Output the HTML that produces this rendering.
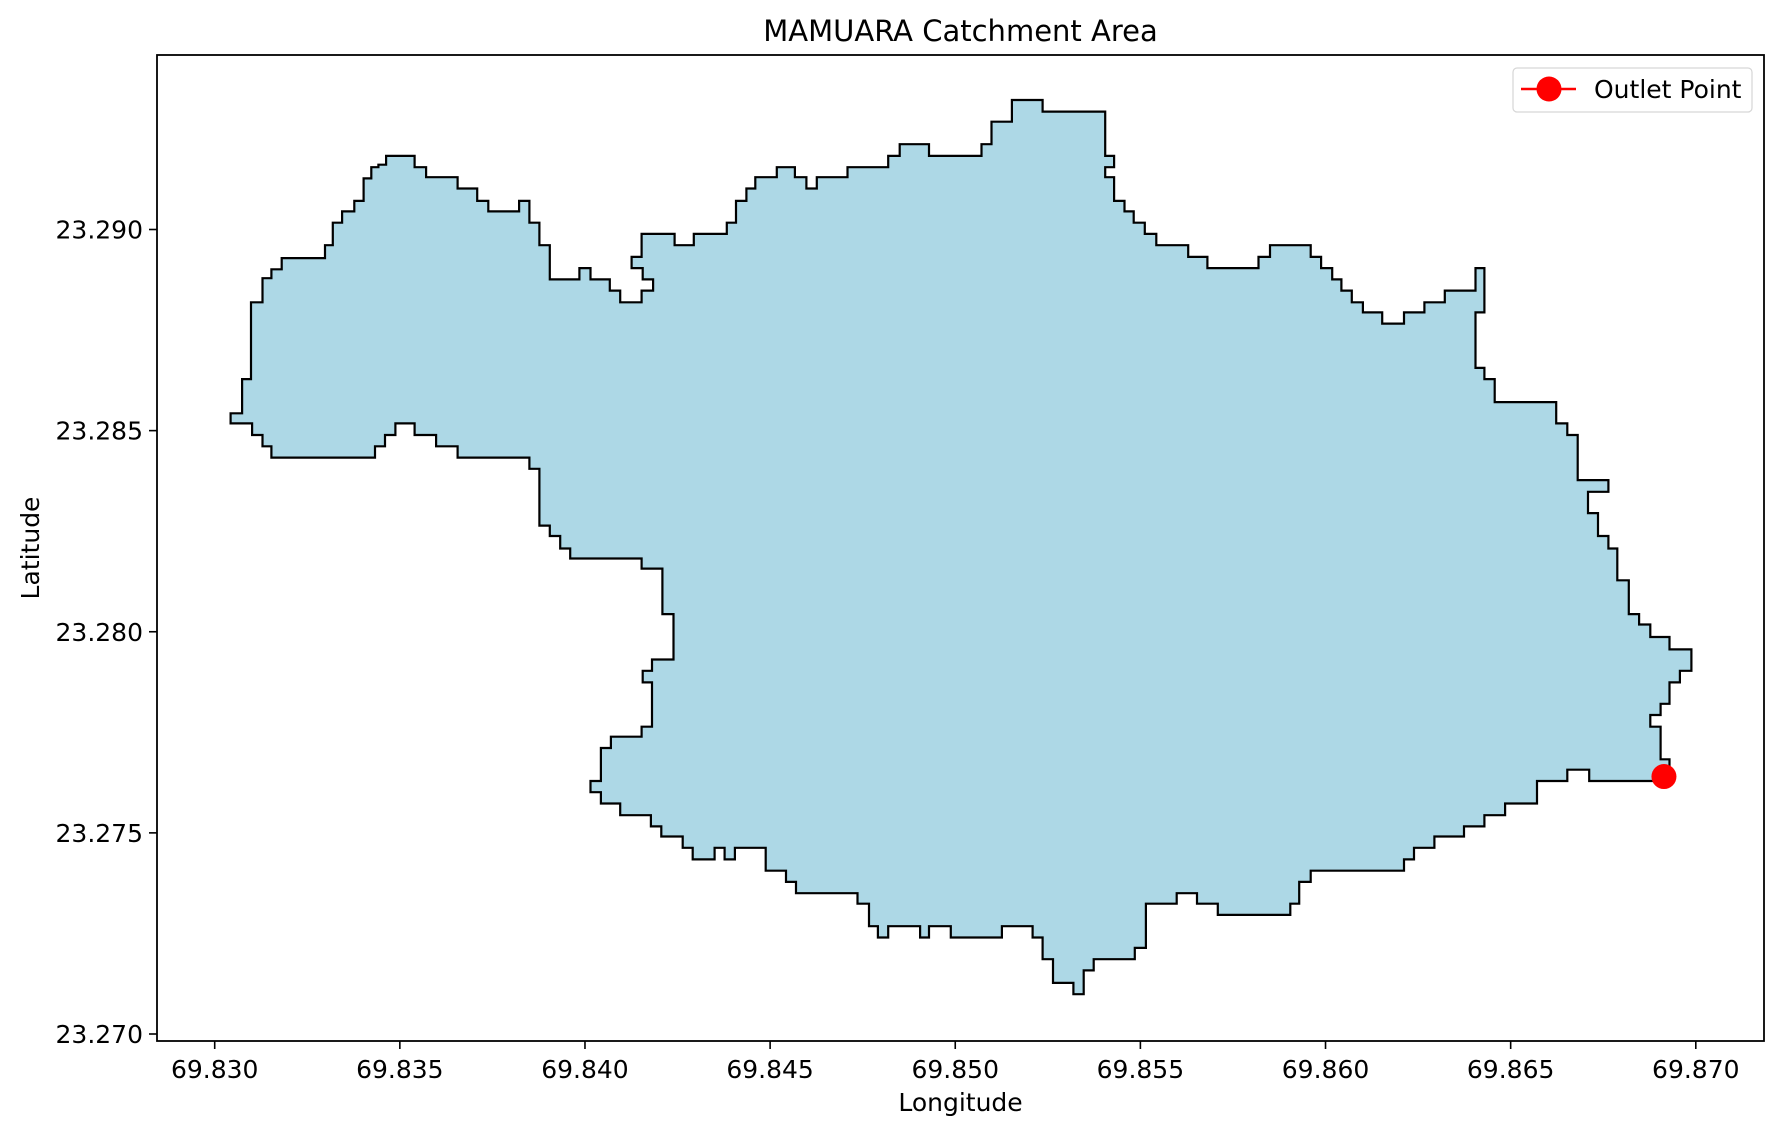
<!DOCTYPE html>
<html><head><meta charset="utf-8"><style>
body{margin:0;background:#fff}
svg text{font-family:"DejaVu Sans","Liberation Sans",sans-serif;fill:#000}
</style></head><body>
<svg id="chart" width="1781" height="1134" xmlns="http://www.w3.org/2000/svg">
<rect width="1781" height="1134" fill="#fff"/>
<g id="plot"></g>
</svg>
<script>
const xTicks=[69.830,69.835,69.840,69.845,69.850,69.855,69.860,69.865,69.870];
const yTicks=[23.270,23.275,23.280,23.285,23.290];
const outlet=[69.86914,23.27640];
const boundary=[
[69.83043,23.28543],[69.83074,23.28543],[69.83074,23.28628],[69.83098,23.28628],[69.83098,23.28819],[69.83129,23.28819],[69.83129,23.28879],[69.83153,23.28879],[69.83153,23.28901],[69.83181,23.28901],[69.83181,23.28929],[69.83298,23.28929],[69.83298,23.28961],[69.83319,23.28961],[69.83319,23.29017],[69.83344,23.29017],[69.83344,23.29045],[69.83377,23.29045],[69.83377,23.29071],[69.83402,23.29071],[69.83402,23.29127],[69.83423,23.29127],[69.83423,23.29155],[69.83442,23.29155],[69.83442,23.29161],[69.83463,23.29161],[69.83463,23.29183],[69.83540,23.29183],[69.83540,23.29155],[69.83571,23.29155],[69.83571,23.29130],[69.83656,23.29130],[69.83656,23.29102],[69.83709,23.29102],[69.83709,23.29071],[69.83739,23.29071],[69.83739,23.29045],[69.83822,23.29045],[69.83822,23.29071],[69.83850,23.29071],[69.83850,23.29017],[69.83877,23.29017],[69.83877,23.28961],[69.83905,23.28961],[69.83905,23.28876],[69.83985,23.28876],[69.83985,23.28904],[69.84015,23.28904],[69.84015,23.28876],[69.84067,23.28876],[69.84067,23.28848],[69.84095,23.28848],[69.84095,23.28819],[69.84153,23.28819],[69.84153,23.28848],[69.84184,23.28848],[69.84184,23.28876],[69.84156,23.28876],[69.84156,23.28904],[69.84126,23.28904],[69.84126,23.28932],[69.84153,23.28932],[69.84153,23.28989],[69.84242,23.28989],[69.84242,23.28961],[69.84294,23.28961],[69.84294,23.28989],[69.84383,23.28989],[69.84383,23.29017],[69.84408,23.29017],[69.84408,23.29071],[69.84436,23.29071],[69.84436,23.29102],[69.84460,23.29102],[69.84460,23.29130],[69.84518,23.29130],[69.84518,23.29155],[69.84567,23.29155],[69.84567,23.29130],[69.84598,23.29130],[69.84598,23.29102],[69.84626,23.29102],[69.84626,23.29130],[69.84709,23.29130],[69.84709,23.29155],[69.84819,23.29155],[69.84819,23.29183],[69.84850,23.29183],[69.84850,23.29212],[69.84929,23.29212],[69.84929,23.29183],[69.85071,23.29183],[69.85071,23.29212],[69.85098,23.29212],[69.85098,23.29268],[69.85153,23.29268],[69.85153,23.29322],[69.85236,23.29322],[69.85236,23.29293],[69.85405,23.29293],[69.85405,23.29183],[69.85429,23.29183],[69.85429,23.29155],[69.85405,23.29155],[69.85405,23.29130],[69.85429,23.29130],[69.85429,23.29071],[69.85457,23.29071],[69.85457,23.29045],[69.85482,23.29045],[69.85482,23.29017],[69.85512,23.29017],[69.85512,23.28989],[69.85543,23.28989],[69.85543,23.28961],[69.85629,23.28961],[69.85629,23.28932],[69.85681,23.28932],[69.85681,23.28904],[69.85819,23.28904],[69.85819,23.28932],[69.85850,23.28932],[69.85850,23.28961],[69.85960,23.28961],[69.85960,23.28932],[69.85988,23.28932],[69.85988,23.28904],[69.86018,23.28904],[69.86018,23.28876],[69.86043,23.28876],[69.86043,23.28848],[69.86071,23.28848],[69.86071,23.28819],[69.86101,23.28819],[69.86101,23.28794],[69.86153,23.28794],[69.86153,23.28766],[69.86212,23.28766],[69.86212,23.28794],[69.86267,23.28794],[69.86267,23.28819],[69.86322,23.28819],[69.86322,23.28848],[69.86405,23.28848],[69.86405,23.28904],[69.86429,23.28904],[69.86429,23.28794],[69.86405,23.28794],[69.86405,23.28656],[69.86429,23.28656],[69.86429,23.28628],[69.86457,23.28628],[69.86457,23.28571],[69.86623,23.28571],[69.86623,23.28518],[69.86653,23.28518],[69.86653,23.28489],[69.86681,23.28489],[69.86681,23.28377],[69.86764,23.28377],[69.86764,23.28348],[69.86709,23.28348],[69.86709,23.28295],[69.86736,23.28295],[69.86736,23.28238],[69.86764,23.28238],[69.86764,23.28207],[69.86788,23.28207],[69.86788,23.28128],[69.86819,23.28128],[69.86819,23.28044],[69.86847,23.28044],[69.86847,23.28018],[69.86877,23.28018],[69.86877,23.27987],[69.86929,23.27987],[69.86929,23.27956],[69.86988,23.27956],[69.86988,23.27903],[69.86957,23.27903],[69.86957,23.27874],[69.86929,23.27874],[69.86929,23.27821],[69.86905,23.27821],[69.86905,23.27793],[69.86877,23.27793],[69.86877,23.27764],[69.86905,23.27764],[69.86905,23.27683],[69.86929,23.27683],[69.86929,23.27629],[69.86712,23.27629],[69.86712,23.27657],[69.86653,23.27657],[69.86653,23.27629],[69.86571,23.27629],[69.86571,23.27573],[69.86485,23.27573],[69.86485,23.27544],[69.86429,23.27544],[69.86429,23.27516],[69.86374,23.27516],[69.86374,23.27491],[69.86294,23.27491],[69.86294,23.27463],[69.86239,23.27463],[69.86239,23.27434],[69.86212,23.27434],[69.86212,23.27406],[69.85960,23.27406],[69.85960,23.27378],[69.85929,23.27378],[69.85929,23.27324],[69.85905,23.27324],[69.85905,23.27296],[69.85709,23.27296],[69.85709,23.27324],[69.85653,23.27324],[69.85653,23.27350],[69.85598,23.27350],[69.85598,23.27324],[69.85515,23.27324],[69.85515,23.27214],[69.85485,23.27214],[69.85485,23.27186],[69.85374,23.27186],[69.85374,23.27158],[69.85347,23.27158],[69.85347,23.27099],[69.85319,23.27099],[69.85319,23.27127],[69.85264,23.27127],[69.85264,23.27186],[69.85236,23.27186],[69.85236,23.27240],[69.85209,23.27240],[69.85209,23.27268],[69.85126,23.27268],[69.85126,23.27240],[69.84988,23.27240],[69.84988,23.27268],[69.84929,23.27268],[69.84929,23.27240],[69.84905,23.27240],[69.84905,23.27268],[69.84819,23.27268],[69.84819,23.27240],[69.84791,23.27240],[69.84791,23.27268],[69.84767,23.27268],[69.84767,23.27324],[69.84736,23.27324],[69.84736,23.27350],[69.84570,23.27350],[69.84570,23.27378],[69.84543,23.27378],[69.84543,23.27406],[69.84488,23.27406],[69.84488,23.27463],[69.84405,23.27463],[69.84405,23.27434],[69.84377,23.27434],[69.84377,23.27463],[69.84350,23.27463],[69.84350,23.27434],[69.84291,23.27434],[69.84291,23.27463],[69.84264,23.27463],[69.84264,23.27491],[69.84206,23.27491],[69.84206,23.27516],[69.84178,23.27516],[69.84178,23.27544],[69.84095,23.27544],[69.84095,23.27573],[69.84043,23.27573],[69.84043,23.27601],[69.84015,23.27601],[69.84015,23.27629],[69.84043,23.27629],[69.84043,23.27711],[69.84070,23.27711],[69.84070,23.27739],[69.84153,23.27739],[69.84153,23.27764],[69.84181,23.27764],[69.84181,23.27874],[69.84156,23.27874],[69.84156,23.27903],[69.84181,23.27903],[69.84181,23.27931],[69.84239,23.27931],[69.84239,23.28044],[69.84209,23.28044],[69.84209,23.28157],[69.84153,23.28157],[69.84153,23.28182],[69.83960,23.28182],[69.83960,23.28207],[69.83933,23.28207],[69.83933,23.28238],[69.83905,23.28238],[69.83905,23.28264],[69.83877,23.28264],[69.83877,23.28405],[69.83850,23.28405],[69.83850,23.28433],[69.83656,23.28433],[69.83656,23.28461],[69.83598,23.28461],[69.83598,23.28489],[69.83540,23.28489],[69.83540,23.28518],[69.83488,23.28518],[69.83488,23.28489],[69.83460,23.28489],[69.83460,23.28461],[69.83433,23.28461],[69.83433,23.28433],[69.83153,23.28433],[69.83153,23.28461],[69.83129,23.28461],[69.83129,23.28489],[69.83101,23.28489],[69.83101,23.28518],[69.83043,23.28518]
];
const NS='http://www.w3.org/2000/svg';
const L=157,R=1764,T=55,B=1041;
const X=v=>214.7+(v-69.830)/0.040*(1695.8-214.7);
const Y=v=>229.5+(23.290-v)/0.020*(1034-229.5);
const g=document.getElementById('plot');
function el(tag,attrs,parent){const e=document.createElementNS(NS,tag);for(const k in attrs)e.setAttribute(k,attrs[k]);(parent||g).appendChild(e);return e;}
const poly=el('polygon',{points:boundary.map(p=>X(p[0]).toFixed(1)+','+Y(p[1]).toFixed(1)).join(' '),fill:'#add8e6',stroke:'#000','stroke-width':2.2,'stroke-linejoin':'miter'});


const pt=el('circle',{cx:X(outlet[0]),cy:Y(outlet[1]),r:12.5,fill:'#ff0000'});


const frame=el('rect',{x:L,y:T,width:R-L,height:B-T,fill:'none',stroke:'#000','stroke-width':1.8});


xTicks.forEach(v=>{const x=X(v);
const t=el('line',{x1:x,x2:x,y1:B,y2:B+8,stroke:'#000','stroke-width':1.6});


const tx=el('text',{x:x,y:B+37,'text-anchor':'middle','font-size':25});tx.textContent=v.toFixed(3);

});
yTicks.forEach(v=>{const y=Y(v);
const t=el('line',{x1:L-8,x2:L,y1:y,y2:y,stroke:'#000','stroke-width':1.6});


const tx=el('text',{x:L-14,y:y+9,'text-anchor':'end','font-size':25});tx.textContent=v.toFixed(3);

});
const title=el('text',{x:(L+R)/2,y:41,'text-anchor':'middle','font-size':29});title.textContent='MAMUARA Catchment Area';


const xt=el('text',{x:(L+R)/2,y:1111,'text-anchor':'middle','font-size':25});xt.textContent='Longitude';


const yt=el('text',{x:0,y:0,'text-anchor':'middle','font-size':25,transform:'translate(39,'+((T+B)/2)+') rotate(-90)'});yt.textContent='Latitude';


const lg=el('g',{});


el('rect',{x:1513,y:68,width:239,height:44,rx:4,fill:'#fff','fill-opacity':0.8,stroke:'#d6d6d6','stroke-width':1.2},lg);
el('line',{x1:1521,x2:1576,y1:89,y2:89,stroke:'#ff0000','stroke-width':2.5},lg);
el('circle',{cx:1549,cy:89,r:12.5,fill:'#ff0000'},lg);
const lt=el('text',{x:1594,y:98,'font-size':25},lg);lt.textContent='Outlet Point';


</script>
</body></html>
